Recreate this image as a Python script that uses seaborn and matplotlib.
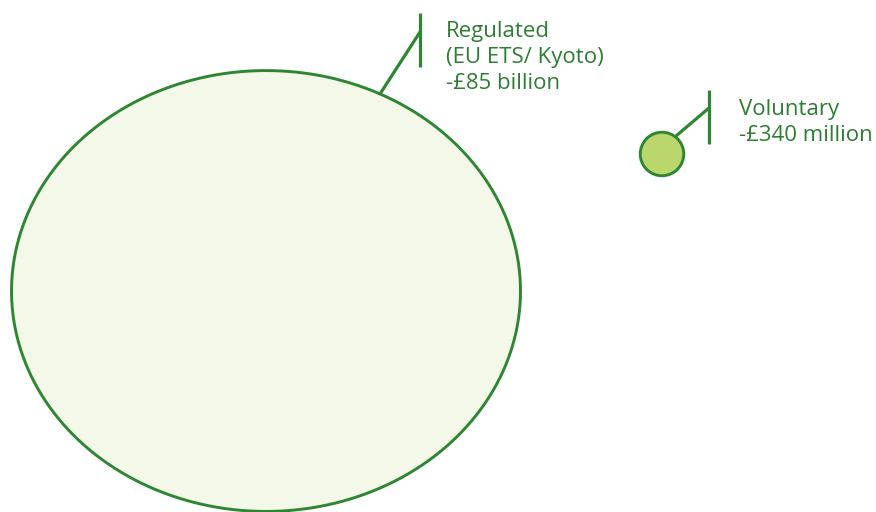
#!/usr/bin/env python3
# plot: carbon market size bubbles

import numpy as np
import pandas as pd
import seaborn as sns
import matplotlib.pyplot as plt
from matplotlib.path import Path

# Data =========================================================================

markets = ['Regulated', 'Voluntary']
values_gbp_m = [85000, 340]  # market value, £ million
labels = ['Regulated\n(EU ETS/ Kyoto)\n-£85 billion', 'Voluntary\n-£340 million']

# Layout (pixel units, y down) =================================================

centers_x = [266, 662]
centers_y = [291, 154]
area_pt2 = (981, 134300)      # small / big marker area in points^2
fills = {'Regulated': '#f3f8e8', 'Voluntary': '#b9d76c'}
edge = '#2e8633'
text_col = '#2e7d32'

# leader lines: (diagonal start, diagonal end, bar top, bar bottom)
leaders = [
    ((380, 94), (420, 32), 13, 67),
    ((676, 136), (709, 108), 90, 144),
]
text_pos = [(446, 21), (739, 99)]


def ellipse_marker(ratio):
    t = np.linspace(0, 2 * np.pi, 200)
    verts = np.column_stack([np.cos(t), ratio * np.sin(t)])
    return Path(verts, closed=True)


def main():
    sns.set_theme(style='white')
    plt.rcParams['font.family'] = ['Open Sans', 'DejaVu Sans']

    df = pd.DataFrame({
        'market': markets,
        'value': values_gbp_m,
        'x': centers_x,
        'y': centers_y,
    })

    fig = plt.figure(figsize=(8.76, 5.12), dpi=100)
    ax = fig.add_axes([0, 0, 1, 1])
    sns.scatterplot(
        data=df, x='x', y='y', hue='market', size='value', style='market',
        palette=fills, sizes=area_pt2,
        markers={'Regulated': ellipse_marker(220 / 254), 'Voluntary': 'o'},
        edgecolor=edge, linewidth=2.1, legend=False, ax=ax, clip_on=False,
    )

    for (p0, p1, top, bot), (tx, ty), lab in zip(leaders, text_pos, labels):
        ax.plot([p0[0], p1[0]], [p0[1], p1[1]], color=edge, lw=2.3,
                solid_capstyle='butt')
        ax.plot([p1[0], p1[0]], [top, bot], color=edge, lw=2.3,
                solid_capstyle='butt')
        ax.text(tx, ty, lab, color=text_col, fontsize=16, ha='left',
                va='top', linespacing=1.32)

    ax.set_xlim(0, 876)
    ax.set_ylim(512, 0)
    ax.axis('off')
    fig.savefig('out.png', dpi=100)


if __name__ == '__main__':
    main()
